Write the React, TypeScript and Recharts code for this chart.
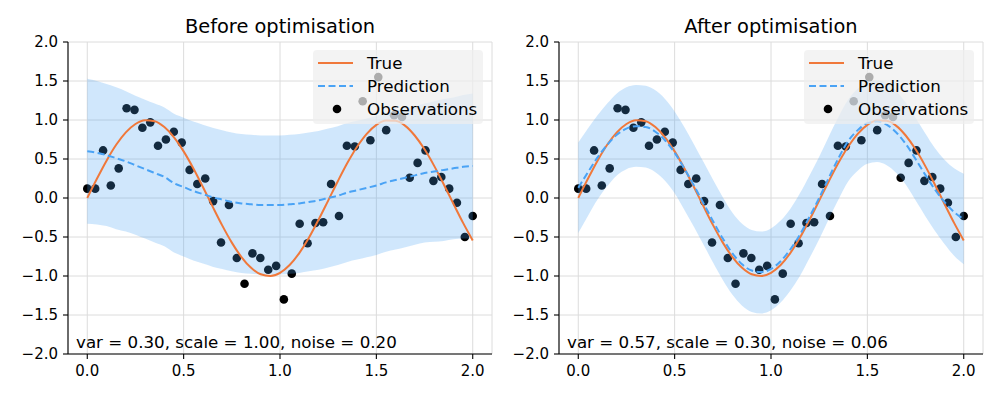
import {
  ComposedChart,
  Area,
  Line,
  Scatter,
  XAxis,
  YAxis,
  CartesianGrid,
  Legend,
} from 'recharts';

// dense x grid used by the curves and the band
const X_GRID = [
  0, 0.05, 0.1, 0.15, 0.2, 0.25, 0.3, 0.35, 0.4, 0.45, 0.5, 0.55, 0.6, 0.65, 0.7, 0.75, 0.8, 0.85, 0.9,
  0.95, 1.0, 1.05, 1.1, 1.15, 1.2, 1.25, 1.3, 1.35, 1.4, 1.45, 1.5, 1.55, 1.6, 1.65, 1.7, 1.75, 1.8,
  1.85, 1.9, 1.95, 2.0,
];

const TRUE_Y = [
  0, 0.247, 0.479, 0.682, 0.841, 0.949, 0.997, 0.984, 0.909, 0.778, 0.598, 0.382, 0.141, -0.108,
  -0.351, -0.572, -0.757, -0.895, -0.978, -0.999, -0.959, -0.859, -0.706, -0.51, -0.279, -0.033,
  0.215, 0.451, 0.657, 0.823, 0.938, 0.994, 0.989, 0.925, 0.798, 0.624, 0.412, 0.174, -0.075,
  -0.319, -0.544,
];

const PRED_BEFORE = [
  0.6, 0.58, 0.55, 0.51, 0.47, 0.42, 0.37, 0.32, 0.27, 0.19, 0.14, 0.09, 0.05, 0.01, -0.02, -0.05,
  -0.07, -0.08, -0.09, -0.09, -0.09, -0.08, -0.07, -0.05, -0.03, 0.0, 0.03, 0.07, 0.1, 0.13, 0.16,
  0.2, 0.23, 0.26, 0.29, 0.32, 0.34, 0.36, 0.38, 0.4, 0.41,
];
const HIGH_BEFORE = [
  1.53, 1.5, 1.46, 1.42, 1.37, 1.31, 1.26, 1.21, 1.16, 1.08, 1.03, 0.98, 0.94, 0.9, 0.87, 0.84,
  0.82, 0.81, 0.8, 0.8, 0.8, 0.81, 0.82, 0.84, 0.86, 0.89, 0.92, 0.96, 0.99, 1.02, 1.05, 1.09, 1.12,
  1.15, 1.18, 1.21, 1.24, 1.27, 1.29, 1.32, 1.34,
];
const LOW_BEFORE = [
  -0.33, -0.34, -0.36, -0.4, -0.43, -0.47, -0.52, -0.57, -0.62, -0.7, -0.75, -0.8, -0.84, -0.88,
  -0.91, -0.94, -0.96, -0.97, -0.98, -0.98, -0.98, -0.97, -0.96, -0.94, -0.92, -0.89, -0.86, -0.82,
  -0.79, -0.76, -0.73, -0.69, -0.66, -0.63, -0.6, -0.57, -0.56, -0.55, -0.53, -0.52, -0.52,
];

const PRED_AFTER = [
  0.13, 0.33, 0.52, 0.68, 0.81, 0.89, 0.92, 0.91, 0.85, 0.74, 0.58, 0.38, 0.16, -0.07, -0.3, -0.52,
  -0.71, -0.85, -0.93, -0.95, -0.91, -0.81, -0.66, -0.47, -0.24, 0.0, 0.26, 0.51, 0.73, 0.87, 0.96,
  0.98, 0.94, 0.84, 0.69, 0.5, 0.3, 0.11, -0.05, -0.18, -0.27,
];
const HIGH_AFTER = [
  0.71, 0.89, 1.06, 1.21, 1.34, 1.42, 1.45, 1.44, 1.38, 1.27, 1.11, 0.91, 0.69, 0.46, 0.23, 0.01,
  -0.19, -0.33, -0.41, -0.43, -0.39, -0.29, -0.14, 0.06, 0.29, 0.53, 0.79, 1.04, 1.26, 1.4, 1.49,
  1.51, 1.47, 1.37, 1.22, 1.03, 0.83, 0.64, 0.49, 0.38, 0.31,
];
const LOW_AFTER = [
  -0.45, -0.23, -0.02, 0.15, 0.29, 0.37, 0.4, 0.39, 0.33, 0.22, 0.06, -0.15, -0.37, -0.6, -0.83,
  -1.05, -1.24, -1.38, -1.46, -1.48, -1.44, -1.34, -1.19, -1.0, -0.77, -0.53, -0.27, -0.02, 0.21,
  0.35, 0.44, 0.46, 0.42, 0.32, 0.17, -0.03, -0.23, -0.42, -0.59, -0.74, -0.85,
];

// noisy observations (same in both panels)
const OBS_X = [
  0, 0.041, 0.082, 0.122, 0.163, 0.204, 0.245, 0.286, 0.327, 0.367, 0.408, 0.449, 0.49, 0.531,
  0.571, 0.612, 0.653, 0.694, 0.735, 0.776, 0.816, 0.857, 0.898, 0.939, 0.98, 1.02, 1.061, 1.102,
  1.143, 1.184, 1.224, 1.265, 1.306, 1.347, 1.388, 1.429, 1.469, 1.51, 1.551, 1.592, 1.633, 1.673,
  1.714, 1.755, 1.796, 1.837, 1.878, 1.918, 1.959, 2.0,
];
const OBS_Y = [
  0.12, 0.12, 0.61, 0.16, 0.38, 1.15, 1.13, 0.9, 0.97, 0.67, 0.75, 0.85, 0.71, 0.36, 0.18, 0.25,
  -0.04, -0.57, -0.09, -0.77, -1.1, -0.71, -0.77, -0.92, -0.87, -1.3, -0.97, -0.33, -0.58, -0.32,
  -0.31, 0.18, -0.23, 0.67, 0.66, 1.24, 0.74, 1.55, 0.87, 1.06, 1.04, 0.26, 0.45, 0.61, 0.22, 0.27,
  0.12, -0.06, -0.5, -0.23,
];

const X_TICKS = [0, 0.5, 1, 1.5, 2];
const Y_TICKS = [-2, -1.5, -1, -0.5, 0, 0.5, 1, 1.5, 2];

const FONT = '"DejaVu Sans", sans-serif';
const ORANGE = '#f0783a';
const BLUE = '#4aa3f5';

const obs = OBS_X.map((x, i) => ({ x, y: OBS_Y[i] }));

const fmtY = (v: number) => (v < 0 ? '\u2212' + Math.abs(v).toFixed(1) : v.toFixed(1));

function LegendBox() {
  const rows = [
    { label: 'True', kind: 'solid' },
    { label: 'Prediction', kind: 'dash' },
    { label: 'Observations', kind: 'dot' },
  ];
  return (
    <div
      style={{
        position: 'relative',
        width: 170,
        height: 74,
        boxSizing: 'border-box',
        background: 'rgba(238,238,238,0.72)',
        borderRadius: 4,
        fontFamily: FONT,
        fontSize: 16.7,
        color: '#000',
      }}
    >
      {rows.map((r, i) => (
        <div key={r.label} style={{ position: 'absolute', left: 0, top: 13.3 + i * 23 - 10, height: 20 }}>
          <svg width={50} height={20} style={{ position: 'absolute', left: 0, top: 0 }}>
            {r.kind === 'solid' && <line x1={5} x2={40} y1={10} y2={10} stroke={ORANGE} strokeWidth={2} />}
            {r.kind === 'dash' && (
              <line x1={5} x2={40} y1={10} y2={10} stroke={BLUE} strokeWidth={2} strokeDasharray="7 3.5" />
            )}
            {r.kind === 'dot' && <circle cx={24} cy={10} r={4.3} fill="#000" />}
          </svg>
          <span style={{ position: 'absolute', left: 54, top: 0, lineHeight: '20px', whiteSpace: 'nowrap' }}>
            {r.label}
          </span>
        </div>
      ))}
    </div>
  );
}

interface PanelProps {
  title: string;
  note: string;
  pred: number[];
  low: number[];
  high: number[];
  marginLeft: number;
  yWidth: number;
  marginRight: number;
}

function Panel({ title, note, pred, low, high, marginLeft, yWidth, marginRight }: PanelProps) {
  const rows = X_GRID.map((x, i) => ({
    x,
    truth: TRUE_Y[i],
    pred: pred[i],
    band: [low[i], high[i]],
  }));
  const plotLeft = marginLeft + yWidth;
  const plotRight = 500 - marginRight;
  const legendLeft = plotRight - 179;

  return (
    <ComposedChart
      width={500}
      height={400}
      data={rows}
      margin={{ top: 42, right: marginRight, bottom: 16, left: marginLeft }}
      style={{ fontFamily: FONT }}
    >
      <CartesianGrid stroke="#dcdcdc" strokeWidth={1} />
      <XAxis
        dataKey="x"
        type="number"
        domain={[-0.1, 2.1]}
        ticks={X_TICKS}
        allowDataOverflow
        height={30}
        tickFormatter={(v) => Number(v).toFixed(1)}
        tick={{ fill: '#000', fontSize: 15 }}
        axisLine={{ stroke: '#000', strokeWidth: 1.1 }}
        tickLine={{ stroke: '#000', strokeWidth: 1.1 }}
        tickSize={5}
        tickMargin={6}
      />
      <YAxis
        type="number"
        domain={[-2, 2]}
        ticks={Y_TICKS}
        interval={0}
        allowDataOverflow
        width={yWidth}
        tickFormatter={(v) => fmtY(Number(v))}
        tick={{ fill: '#000', fontSize: 15 }}
        axisLine={{ stroke: '#000', strokeWidth: 1.1 }}
        tickLine={{ stroke: '#000', strokeWidth: 1.1 }}
        tickSize={5}
        tickMargin={5}
      />
      <Scatter
        data={obs}
        dataKey="y"
        zIndex={50}
        isAnimationActive={false}
        shape={(p: any) => <circle cx={p.cx} cy={p.cy} r={4.3} fill="#000" />}
      />
      <Area
        dataKey="band"
        type="monotone"
        stroke="none"
        fill={BLUE}
        fillOpacity={0.26}
        isAnimationActive={false}
        activeDot={false}
      />
      <Line
        dataKey="truth"
        type="monotone"
        stroke={ORANGE}
        strokeWidth={2}
        dot={false}
        activeDot={false}
        isAnimationActive={false}
      />
      <Line
        dataKey="pred"
        type="monotone"
        stroke={BLUE}
        strokeWidth={2}
        strokeDasharray="7 3.5"
        dot={false}
        activeDot={false}
        isAnimationActive={false}
      />
      <Legend
        layout="vertical"
        align="center"
        verticalAlign="middle"
        content={() => <LegendBox />}
        wrapperStyle={{ left: legendLeft, top: 50, width: 170, height: 74 }}
      />
      <text x={(plotLeft + plotRight) / 2} y={33} textAnchor="middle" fontSize={19.4} fill="#000" fontFamily={FONT}>
        {title}
      </text>
      <text x={plotLeft + 8} y={348} fontSize={16.7} fill="#000" fontFamily={FONT}>
        {note}
      </text>
    </ComposedChart>
  );
}

export default function App() {
  return (
    <div style={{ position: 'absolute', left: 0, top: 0, width: 1000, height: 400, background: '#fff' }}>
      <div style={{ position: 'absolute', left: 0, top: 0 }}>
        <Panel
          title="Before optimisation"
          note="var = 0.30, scale = 1.00, noise = 0.20"
          pred={PRED_BEFORE}
          low={LOW_BEFORE}
          high={HIGH_BEFORE}
          marginLeft={8}
          yWidth={60}
          marginRight={8}
        />
      </div>
      <div style={{ position: 'absolute', left: 500, top: 0 }}>
        <Panel
          title="After optimisation"
          note="var = 0.57, scale = 0.30, noise = 0.06"
          pred={PRED_AFTER}
          low={LOW_AFTER}
          high={HIGH_AFTER}
          marginLeft={9}
          yWidth={50}
          marginRight={17}
        />
      </div>
    </div>
  );
}
